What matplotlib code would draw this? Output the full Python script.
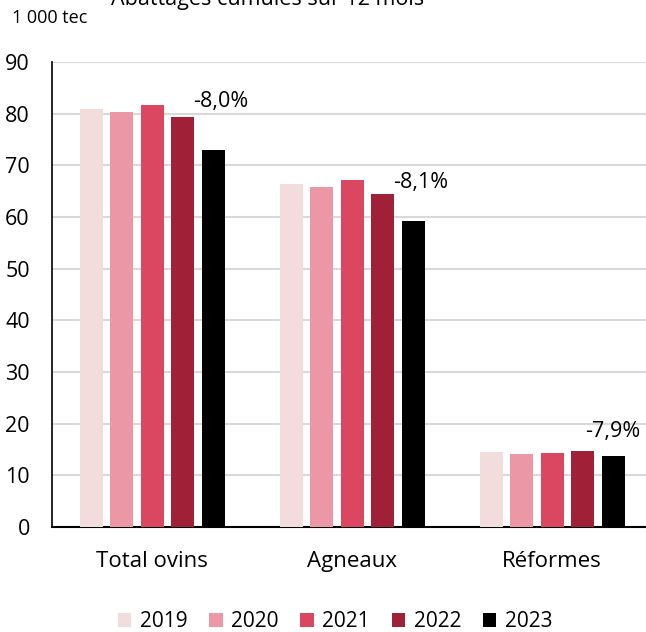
import matplotlib.pyplot as plt
import numpy as np

plt.rcParams['font.family'] = ['Open Sans', 'DejaVu Sans']

categories = ['Total ovins', 'Agneaux', 'Réformes']
years = ['2019', '2020', '2021', '2022', '2023']
values = {
    '2019': [80.9, 66.3, 14.5],
    '2020': [80.3, 65.9, 14.2],
    '2021': [81.7, 67.2, 14.3],
    '2022': [79.4, 64.5, 14.8],
    '2023': [73.0, 59.3, 13.7],
}
variations = ['-8,0%', '-8,1%', '-7,9%']
colors = ['#F2DCDC', '#EB97A5', '#DB4660', '#A02037', '#000000']

fig = plt.figure(figsize=(6.46, 6.32), dpi=100)
ax = fig.add_axes([52 / 646, 105 / 632, 1 - 52 / 646, 465 / 632])

x = np.arange(len(categories))
step = 0.1525
width = 0.115
for i, (yr, col) in enumerate(zip(years, colors)):
    ax.bar(x + (i - 2) * step, values[yr], width, color=col, label=yr, zorder=3)

# labels placed near the 2023 bars
label_dx = [0.345, 0.345, 0.305]
label_y = [82.4, 66.7, 18.4]
for xi, lab, dx, ly in zip(x, variations, label_dx, label_y):
    ax.text(xi + dx, ly, lab, ha='center', va='center', fontsize=15.5)

ax.set_xlim(-0.5, 2.47)
ax.set_ylim(0, 90)
ax.set_yticks(range(0, 91, 10))
ax.yaxis.grid(True, color='#D9D9D9', linewidth=1.5, zorder=0)
ax.set_xticks(x)
ax.set_xticklabels(categories, fontsize=16)
ax.tick_params(axis='y', labelsize=15.5, length=0, pad=16)
ax.tick_params(axis='x', length=0, pad=17)
for s in ['top', 'right']:
    ax.spines[s].set_visible(False)
ax.spines['left'].set_linewidth(1.2)
ax.spines['bottom'].set_linewidth(1.5)

fig.text(12 / 646, 1 - 18 / 632, '1 000 tec', fontsize=13, va='center', ha='left')
fig.text(268 / 646, 1 - 5 / 632, 'Abattages cumulés sur 12 mois', fontsize=15.5,
         ha='center', va='baseline')

fig.legend(loc='center', bbox_to_anchor=(335 / 646, 1 - 621.5 / 632), ncol=5,
           frameon=False, fontsize=15, handlelength=0.65, handleheight=0.65,
           handletextpad=0.4, columnspacing=1.05, borderpad=0.2)

plt.savefig('out.png', dpi=100)
